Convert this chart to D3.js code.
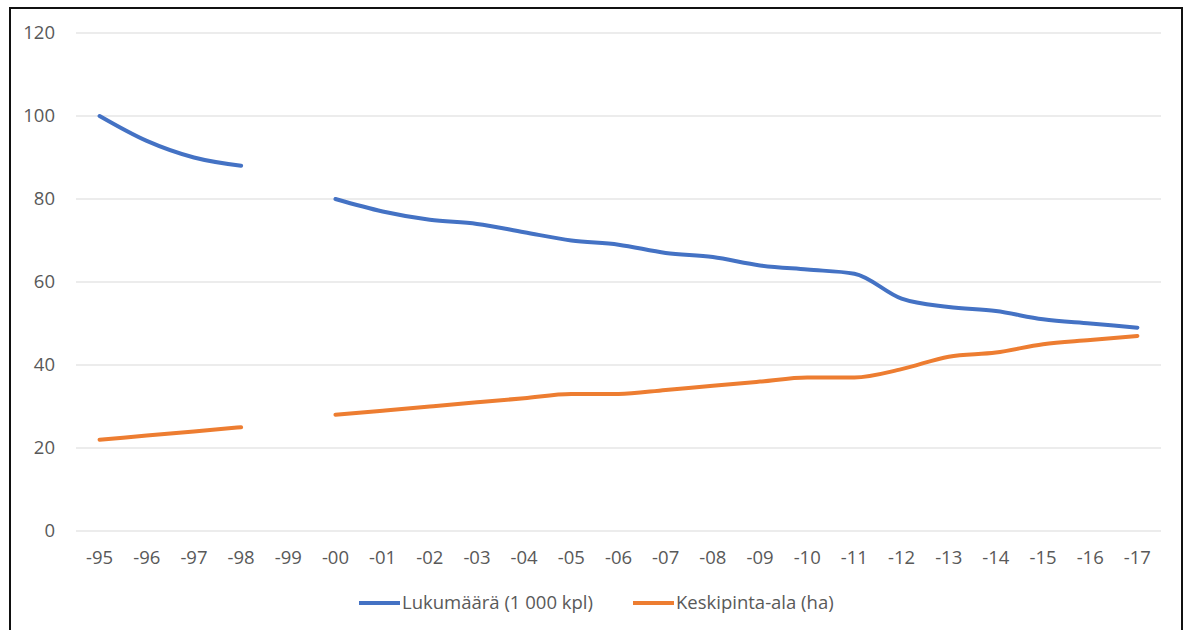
<!DOCTYPE html>
<html>
<head>
<meta charset="utf-8">
<script src="https://cdn.jsdelivr.net/npm/d3@7"></script>
<style>
  body { margin: 0; background: #fff; }
  svg text { font-family: "Open Sans", "Liberation Sans", sans-serif; fill: #595959; }
</style>
</head>
<body>
<svg id="chart" width="1189" height="630"></svg>
<script>
// Categories (years, short form)
var years = ["-95", "-96", "-97", "-98", "-99", "-00", "-01", "-02", "-03", "-04", "-05",
             "-06", "-07", "-08", "-09", "-10", "-11", "-12", "-13", "-14", "-15", "-16", "-17"];

// Lukumäärä (1 000 kpl), no value for -99
var lukumaara = [100, 94, 90, 88, null, 80, 77, 75, 74, 72, 70,
                 69, 67, 66, 64, 63, 62, 56, 54, 53, 51, 50, 49];

// Keskipinta-ala (ha), no value for -99
var keskipinta = [22, 23, 24, 25, null, 28, 29, 30, 31, 32, 33,
                  33, 34, 35, 36, 37, 37, 39, 42, 43, 45, 46, 47];

var yTicks = [0, 20, 40, 60, 80, 100, 120];

var seriesNames = ["Lukumäärä (1 000 kpl)", "Keskipinta-ala (ha)"];
var seriesColors = ["#4472C4", "#ED7D31"];

var svg = d3.select("#chart");

// outer frame
svg.append("rect")
  .attr("x", 10).attr("y", 8)
  .attr("width", 1172).attr("height", 640)
  .attr("fill", "none")
  .attr("stroke", "#111")
  .attr("stroke-width", 2);

// plot area (note: "top" is reserved on window, so use other names)
var plotLeft = 76, plotRight = 1161, plotTop = 33, plotBottom = 531;

var x = d3.scaleBand()
  .domain(years)
  .range([plotLeft, plotRight]);

var y = d3.scaleLinear()
  .domain([0, 120])
  .range([plotBottom, plotTop]);

// gridlines
svg.append("g")
  .selectAll("line")
  .data(yTicks)
  .enter()
  .append("line")
  .attr("x1", plotLeft).attr("x2", plotRight)
  .attr("y1", d => y(d)).attr("y2", d => y(d))
  .attr("stroke", "#d9d9d9")
  .attr("stroke-width", 1);

// y labels
svg.append("g")
  .selectAll("text")
  .data(yTicks)
  .enter()
  .append("text")
  .attr("x", 55)
  .attr("y", d => y(d))
  .attr("dy", "0.35em")
  .attr("text-anchor", "end")
  .style("font-size", "18.5px")
  .text(d => d);

// x labels
svg.append("g")
  .selectAll("text")
  .data(years)
  .enter()
  .append("text")
  .attr("x", d => x(d) + x.bandwidth() / 2)
  .attr("y", 558)
  .attr("dy", "0.35em")
  .attr("text-anchor", "middle")
  .style("font-size", "18.5px")
  .text(d => d);

// lines (gap where value is missing)
var line = d3.line()
  .defined(d => d.v != null)
  .x(d => x(d.year) + x.bandwidth() / 2)
  .y(d => y(d.v))
  .curve(d3.curveMonotoneX);

[lukumaara, keskipinta].forEach(function (vals, i) {
  var pts = years.map((yr, j) => ({ year: yr, v: vals[j] }));
  svg.append("path")
    .datum(pts)
    .attr("d", line)
    .attr("fill", "none")
    .attr("stroke", seriesColors[i])
    .attr("stroke-width", 4)
    .attr("stroke-linejoin", "round")
    .attr("stroke-linecap", "round");
});

// legend
var legendX = [359, 633];
seriesNames.forEach(function (name, i) {
  var g = svg.append("g").attr("transform", "translate(" + legendX[i] + ",603)");
  g.append("line")
    .attr("x1", 0).attr("x2", 41)
    .attr("y1", 0).attr("y2", 0)
    .attr("stroke", seriesColors[i])
    .attr("stroke-width", 4);
  g.append("text")
    .attr("x", 43)
    .attr("dy", "0.35em")
    .style("font-size", "18.5px")
    .text(name);
});
</script>
</body>
</html>
